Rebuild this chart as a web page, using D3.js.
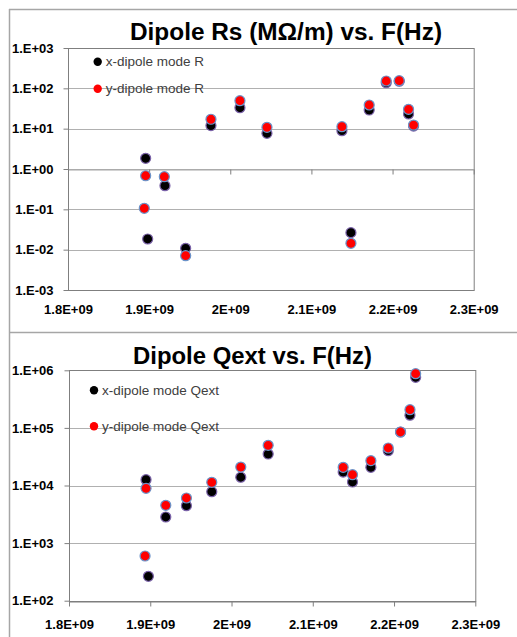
<!DOCTYPE html>
<html>
<head>
<meta charset="utf-8">
<title>Dipole Rs and Qext vs. F(Hz)</title>
<script src="https://d3js.org/d3.v7.min.js"></script>
<style>
  body { margin: 0; background: #fff; }
  svg { display: block; font-family: "Liberation Sans", Arial, sans-serif; }
</style>
</head>
<body>
<div id="chart"></div>
<script>
// frequencies (Hz) and values
const rsFreq  = [1.8957e9, 1.8982e9, 1.9195e9, 1.945e9, 1.9762e9, 2.0119e9, 2.0452e9, 2.1376e9, 2.1487e9, 2.1712e9, 2.1922e9, 2.2082e9, 2.2197e9, 2.2259e9];
const rsX     = [1.84, 0.0184, 0.385, 0.0108, 11.9, 33, 7.66, 8.9, 0.0264, 29, 138, 150, 23.1, 11.6];
const rsFreqY = [1.8957e9, 1.894e9, 1.9187e9, 1.945e9, 1.9762e9, 2.0119e9, 2.0452e9, 2.1376e9, 2.1487e9, 2.1712e9, 2.1922e9, 2.2082e9, 2.2197e9, 2.2259e9];
const rsY     = [0.68, 0.106, 0.645, 0.0071, 17.1, 49.4, 10.8, 11.2, 0.0144, 38.6, 152, 155, 30.2, 12.3];

const qFreqX  = [1.8948e9, 1.8977e9, 1.9191e9, 1.9445e9, 1.9757e9, 2.0114e9, 2.0451e9, 2.1374e9, 2.1489e9, 2.1715e9, 2.1929e9, 2.208e9, 2.2196e9, 2.2266e9];
const qX      = [12600, 265, 2840, 4460, 7810, 13900, 35200, 17100, 11500, 20700, 40200, 84900, 166000, 755000];
const qFreqY  = [1.8948e9, 1.8936e9, 1.9191e9, 1.9445e9, 1.9757e9, 2.0114e9, 2.0451e9, 2.1374e9, 2.1489e9, 2.1715e9, 2.1929e9, 2.208e9, 2.2196e9, 2.2266e9];
const qY      = [8940, 597, 4530, 6070, 11370, 20900, 49900, 20700, 15400, 27000, 44800, 84900, 207000, 873000];

const xTicks      = [1.8e9, 1.9e9, 2.0e9, 2.1e9, 2.2e9, 2.3e9];
const xTickLabels = ["1.8E+09", "1.9E+09", "2E+09", "2.1E+09", "2.2E+09", "2.3E+09"];
const rsTicks      = [1e-3, 1e-2, 1e-1, 1e0, 1e1, 1e2, 1e3];
const rsTickLabels = ["1.E-03", "1.E-02", "1.E-01", "1.E+00", "1.E+01", "1.E+02", "1.E+03"];
const qTicks       = [1e2, 1e3, 1e4, 1e5, 1e6];
const qTickLabels  = ["1.E+02", "1.E+03", "1.E+04", "1.E+05", "1.E+06"];

const W = 517, H = 637;
const svg = d3.select("#chart").append("svg").attr("width", W).attr("height", H);
svg.append("rect").attr("width", W).attr("height", H).attr("fill", "#fff");

// outer chart frames
const frame = "#a6a6a6";
svg.append("line").attr("x1", 9.5).attr("x2", 9.5).attr("y1", 9).attr("y2", H).attr("stroke", frame).attr("stroke-width", 1.5);
svg.append("line").attr("x1", 9).attr("x2", W).attr("y1", 9.5).attr("y2", 9.5).attr("stroke", frame).attr("stroke-width", 1.5);
svg.append("line").attr("x1", 9).attr("x2", W).attr("y1", 332.5).attr("y2", 332.5).attr("stroke", frame).attr("stroke-width", 1.5);

function drawChart(o) {
  const g = svg.append("g");
  const x = d3.scaleLinear().domain([1.8e9, 2.3e9]).range([o.left, o.right]);
  const y = d3.scaleLog().domain([o.yTicks[0], o.yTicks[o.yTicks.length - 1]]).range([o.bottom, o.top]);

  // gridlines
  g.append("g").selectAll("line").data(o.yTicks.slice(1, -1)).join("line")
    .attr("x1", o.left).attr("x2", o.right)
    .attr("y1", d => Math.round(y(d)) + 0.5).attr("y2", d => Math.round(y(d)) + 0.5)
    .attr("stroke", "#b0b0b0");

  // plot area border
  g.append("rect").attr("x", o.left + 0.5).attr("y", Math.round(o.top) + 0.5)
    .attr("width", o.right - o.left).attr("height", Math.round(o.bottom) - Math.round(o.top))
    .attr("fill", "none").attr("stroke", "#7f7f7f");

  // y axis
  const ya = g.append("g").attr("transform", `translate(${o.left + 0.5},0)`)
    .call(d3.axisLeft(y).tickValues(o.yTicks).tickSize(5).tickPadding(o.yPad)
      .tickFormat((d, i) => o.yLabels[i]));
  ya.select(".domain").remove();
  ya.selectAll("line").attr("stroke", "#7f7f7f");
  ya.selectAll("text").attr("font-size", 13).attr("font-weight", "bold").attr("fill", "#000")
    .attr("font-family", "'Liberation Sans', Arial, sans-serif");

  // x axis line with ticks (crosses at o.cross)
  const yc = Math.round(y(o.cross)) + 0.5;
  const xa = g.append("g").attr("transform", `translate(0,${yc})`)
    .call(d3.axisBottom(x).tickValues(xTicks).tickSize(5).tickSizeOuter(0).tickFormat(""));
  xa.select(".domain").attr("stroke", o.crossColor);
  xa.selectAll("line").attr("stroke", "#7f7f7f");

  // x labels at the bottom
  const xl = g.append("g").attr("transform", `translate(0,${o.bottom})`)
    .call(d3.axisBottom(x).tickValues(xTicks).tickSize(0).tickPadding(o.xPad)
      .tickFormat((d, i) => xTickLabels[i]));
  xl.select(".domain").remove();
  xl.selectAll("text").attr("font-size", 13).attr("font-weight", "bold").attr("fill", "#000")
    .attr("font-family", "'Liberation Sans', Arial, sans-serif");

  // title
  g.append("text").attr("x", o.titleX).attr("y", o.titleY)
    .attr("font-size", 23).attr("font-weight", "bold").attr("fill", "#000")
    .attr("textLength", o.titleW).attr("lengthAdjust", "spacingAndGlyphs")
    .text(o.title);

  // series: x-dipole first, y-dipole drawn on top
  const xs = d3.zip(o.fx, o.vx), ys = d3.zip(o.fy, o.vy);
  g.append("g").selectAll("circle").data(xs).join("circle")
    .attr("cx", d => x(d[0])).attr("cy", d => y(d[1])).attr("r", 5)
    .attr("fill", "#000").attr("stroke", "#7a62a8").attr("stroke-width", 1.2);
  g.append("g").selectAll("circle").data(ys).join("circle")
    .attr("cx", d => x(d[0])).attr("cy", d => y(d[1])).attr("r", 5)
    .attr("fill", "#ff0000").attr("stroke", "#6b93c9").attr("stroke-width", 1.2);

  // legend
  const leg = [["#000", o.legend[0], o.legY[0]], ["#ff0000", o.legend[1], o.legY[1]]];
  leg.forEach(l => {
    g.append("circle").attr("cx", o.legX).attr("cy", l[2]).attr("r", 4.2).attr("fill", l[0]);
    g.append("text").attr("x", o.legX + 8).attr("y", l[2]).attr("dy", "0.35em")
      .attr("font-size", 13.5).attr("fill", "#404040")
      .attr("font-family", "'Liberation Sans', Arial, sans-serif").text(l[1]);
  });
}

drawChart({
  left: 68, right: 473.7, top: 48, bottom: 290,
  yTicks: rsTicks, yLabels: rsTickLabels, yPad: 10, xPad: 15,
  cross: 1, crossColor: "#a6a6a6",
  title: "Dipole Rs (M\u03a9/m) vs. F(Hz)", titleX: 130, titleY: 39.5, titleW: 312,
  fx: rsFreq, vx: rsX, fy: rsFreqY, vy: rsY,
  legend: ["x-dipole mode R", "y-dipole mode R"], legX: 97.7, legY: [61.7, 88.7]
});

drawChart({
  left: 69, right: 475.3, top: 370.3, bottom: 600.7,
  yTicks: qTicks, yLabels: qTickLabels, yPad: 11, xPad: 19,
  cross: 1e2, crossColor: "#7f7f7f",
  title: "Dipole Qext vs. F(Hz)", titleX: 133, titleY: 363.7, titleW: 239,
  fx: qFreqX, vx: qX, fy: qFreqY, vy: qY,
  legend: ["x-dipole mode Qext", "y-dipole mode Qext"], legX: 94, legY: [390.3, 426.3]
});
</script>
</body>
</html>
